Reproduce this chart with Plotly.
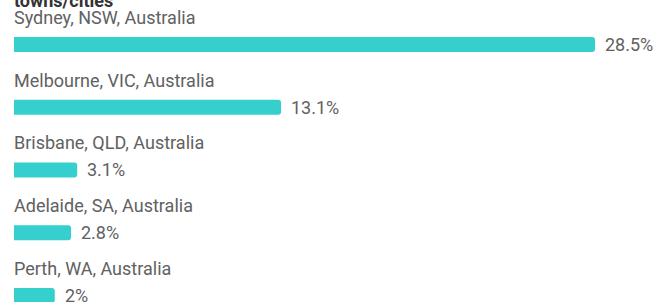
import plotly.graph_objects as go

cities = ["Sydney, NSW, Australia", "Melbourne, VIC, Australia", "Brisbane, QLD, Australia",
          "Adelaide, SA, Australia", "Perth, WA, Australia"]
values = [28.5, 13.1, 3.1, 2.8, 2.0]
value_labels = ["28.5%", "13.1%", "3.1%", "2.8%", "2%"]
title = "towns/cities"

pos = list(range(len(cities)))
bar_color = "#35cfcd"
text_color = "#616161"
font_family = "Roboto"

fig = go.Figure()
fig.add_trace(go.Bar(
    x=values, y=pos, orientation="h", width=0.24,
    marker=dict(color=bar_color, line=dict(width=0)),
    hoverinfo="skip",
))

annotations = []
for i, (c, v, lab) in enumerate(zip(cities, values, value_labels)):
    annotations.append(dict(x=0, y=i - 0.43, xref="x", yref="y", text=c, showarrow=False,
                            xanchor="left", yanchor="middle", xshift=-2,
                            font=dict(family=font_family, size=18, color=text_color)))
    annotations.append(dict(x=v, y=i, xref="x", yref="y", text=lab, showarrow=False,
                            xanchor="left", yanchor="middle", xshift=8,
                            font=dict(family=font_family, size=18, color=text_color)))
annotations.append(dict(x=0, y=1, xref="paper", yref="paper", text="<b>" + title + "</b>",
                        showarrow=False, xanchor="left", yanchor="middle", xshift=-2, yshift=0,
                        font=dict(family=font_family, size=18, color="#333333")))

fig.update_layout(
    width=656, height=302,
    margin=dict(l=14, r=0, t=0, b=0),
    paper_bgcolor="white", plot_bgcolor="white",
    showlegend=False,
    barcornerradius=3,
    xaxis=dict(range=[0, 31.49], visible=False, fixedrange=True),
    yaxis=dict(range=[4.105, -0.709], visible=False, fixedrange=True),
    annotations=annotations,
)

fig.write_html("out.html", config={"displayModeBar": False},
               post_script="document.body.style.margin='0';document.body.style.overflow='hidden';")
